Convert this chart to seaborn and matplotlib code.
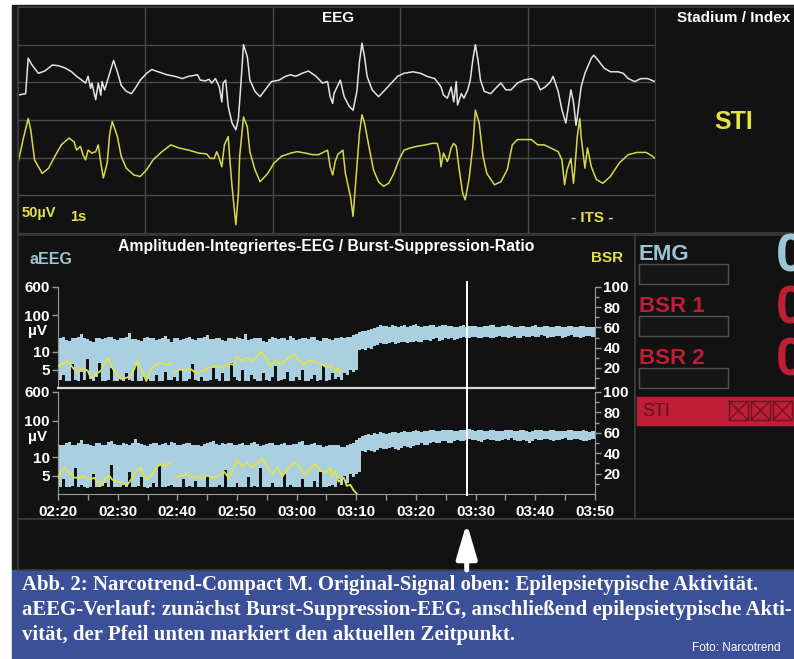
import numpy as np
import matplotlib
matplotlib.use("Agg")
import matplotlib.pyplot as plt
import matplotlib.transforms as mtransforms
from matplotlib.patches import Rectangle
from matplotlib.ticker import NullLocator
import seaborn as sns

W, H = 794, 659

# ---------------- EEG raw signal (top panel): seconds / µV (display offset included)
eeg_white_t = [0.00, 0.06, 0.08, 0.11, 0.16, 0.21, 0.27, 0.32, 0.37, 0.42,
               0.46, 0.50, 0.53, 0.55, 0.57, 0.58, 0.61, 0.63, 0.65, 0.66,
               0.68, 0.72, 0.75, 0.78, 0.81, 0.85, 0.89, 0.92, 0.96, 1.01,
               1.05, 1.10, 1.17, 1.23, 1.29, 1.34, 1.41, 1.43, 1.47, 1.50,
               1.52, 1.55, 1.58, 1.60, 1.61, 1.63, 1.65, 1.68, 1.71, 1.73,
               1.75, 1.77, 1.80, 1.82, 1.86, 1.90, 1.94, 1.99, 2.05, 2.10,
               2.14, 2.18, 2.23, 2.28, 2.34, 2.39, 2.43, 2.45, 2.47, 2.48,
               2.51, 2.53, 2.56, 2.60, 2.63, 2.66, 2.68, 2.70, 2.72, 2.74,
               2.78, 2.83, 2.87, 2.93, 2.98, 3.03, 3.10, 3.16, 3.21, 3.27,
               3.29, 3.32, 3.34, 3.37, 3.40, 3.42, 3.44, 3.45, 3.48, 3.50,
               3.53, 3.55, 3.57, 3.59, 3.61, 3.63, 3.66, 3.71, 3.76, 3.79,
               3.83, 3.87, 3.92, 3.97, 4.03, 4.07, 4.10, 4.14, 4.18, 4.20,
               4.24, 4.27, 4.30, 4.32, 4.34, 4.36, 4.38, 4.39, 4.42, 4.45,
               4.50, 4.52, 4.55, 4.60, 4.65, 4.71, 4.75, 4.79, 4.84, 4.89,
               4.94, 5.00]
eeg_white_uv = [33, 35, 82, 73, 62, 65, 73, 72, 69, 64,
                58, 53, 49, 58, 42, 49, 27, 49, 33, 51,
                40, 62, 79, 64, 46, 38, 35, 42, 53, 62,
                67, 64, 60, 58, 55, 58, 60, 53, 52, 54,
                49, 55, 44, 24, 49, 53, 18, -4, -13, 2,
                49, 100, 84, 53, 38, 31, 40, 51, 53, 58,
                60, 58, 62, 65, 58, 49, 51, 31, 22, 35,
                46, 53, 31, 18, 13, 38, 77, 102, 84, 58,
                40, 31, 38, 49, 58, 62, 64, 62, 58, 55,
                51, 44, 33, 29, 44, 24, 51, 20, 35, 29,
                40, 53, 80, 100, 80, 53, 38, 35, 44, 49,
                40, 40, 49, 53, 55, 51, 40, 44, 51, 58,
                38, 13, -4, 18, 40, 24, -7, 4, 44, 62,
                82, 86, 80, 69, 64, 64, 62, 55, 51, 55,
                55, 51]

eeg_yellow_t = [0.00, 0.04, 0.08, 0.10, 0.13, 0.19, 0.24, 0.29, 0.34, 0.40,
                0.44, 0.46, 0.49, 0.51, 0.53, 0.55, 0.58, 0.61, 0.63, 0.65,
                0.67, 0.70, 0.72, 0.74, 0.78, 0.81, 0.85, 0.91, 0.96, 1.01,
                1.06, 1.13, 1.20, 1.26, 1.34, 1.42, 1.48, 1.51, 1.54, 1.56,
                1.58, 1.60, 1.62, 1.65, 1.66, 1.68, 1.71, 1.73, 1.74, 1.77,
                1.80, 1.82, 1.86, 1.90, 1.96, 2.01, 2.07, 2.14, 2.19, 2.26,
                2.31, 2.36, 2.43, 2.45, 2.47, 2.49, 2.51, 2.55, 2.57, 2.61,
                2.63, 2.65, 2.68, 2.70, 2.72, 2.76, 2.79, 2.83, 2.87, 2.91,
                2.95, 2.99, 3.03, 3.08, 3.13, 3.20, 3.25, 3.29, 3.31, 3.32,
                3.34, 3.37, 3.38, 3.40, 3.42, 3.44, 3.46, 3.49, 3.51, 3.54,
                3.57, 3.59, 3.62, 3.65, 3.68, 3.74, 3.79, 3.84, 3.88, 3.92,
                3.97, 4.03, 4.08, 4.13, 4.18, 4.24, 4.27, 4.29, 4.31, 4.34,
                4.36, 4.37, 4.39, 4.41, 4.42, 4.45, 4.47, 4.50, 4.54, 4.59,
                4.65, 4.72, 4.79, 4.86, 4.93, 4.98, 5.00]
eeg_yellow_uv = [-57, -26, 2, -13, -53, -71, -64, -48, -33, -24,
                 -29, -40, -35, -46, -53, -40, -44, -42, -33, -57,
                 -77, -57, -18, -2, -22, -48, -64, -73, -75, -66,
                 -53, -42, -33, -37, -40, -44, -45, -51, -51, -42,
                 -51, -62, -33, -22, -46, -88, -139, -97, -48, 4,
                 -9, -42, -66, -82, -71, -57, -48, -44, -42, -44,
                 -46, -46, -40, -62, -73, -55, -46, -40, -71, -102,
                 -128, -84, -18, 7, -4, -40, -66, -82, -88, -84,
                 -71, -53, -40, -37, -35, -33, -31, -31, -44, -62,
                 -44, -55, -51, -37, -31, -35, -62, -97, -106, -79,
                 -35, 13, -4, -48, -71, -86, -82, -66, -33, -26,
                 -26, -26, -33, -33, -37, -42, -53, -86, -66, -51,
                 -84, -66, -22, 2, -22, -64, -37, -62, -79, -84,
                 -75, -57, -46, -43, -43, -48, -51]

# ---------------- aEEG trend margins, one value every 0.5 min from 02:20 to 03:50 (µV)
trend_step = 0.5
aeeg1_upper = [22, 24, 25, 21, 20, 23, 24, 26, 30, 23,
               22, 20, 19, 23, 24, 22, 23, 25, 26, 22,
               21, 23, 24, 26, 33, 22, 22, 21, 20, 24,
               25, 23, 23, 21, 22, 24, 27, 22, 19, 23,
               24, 21, 22, 24, 25, 22, 21, 23, 23, 25,
               28, 22, 22, 23, 24, 21, 20, 24, 23, 22,
               25, 23, 22, 31, 21, 22, 24, 23, 23, 20,
               19, 22, 25, 23, 22, 24, 24, 21, 27, 23,
               21, 22, 23, 24, 22, 25, 25, 21, 20, 23,
               23, 22, 21, 24, 24, 25, 24, 25, 26, 28,
               31, 34, 37, 38, 40, 42, 44, 47, 55, 50,
               52, 48, 53, 50, 48, 52, 53, 49, 50, 55,
               56, 50, 49, 52, 52, 55, 54, 49, 50, 53,
               55, 50, 51, 47, 48, 52, 53, 49, 50, 52,
               52, 49, 49, 51, 51, 54, 54, 48, 48, 50,
               50, 53, 52, 47, 47, 50, 51, 48, 49, 52,
               53, 49, 48, 50, 50, 47, 47, 51, 52, 49,
               49, 51, 51, 48, 48, 50, 50, 47, 47, 49,
               49]
aeeg1_lower = [2.0, 2.2, 3.5, 1.8, 1.8, 6.5, 2.2, 2.0, 4.5, 2.2,
               8.0, 2.5, 2.0, 3.0, 7.0, 2.0, 2.0, 2.2, 5.5, 1.8,
               1.8, 2.5, 2.0, 4.0, 2.2, 2.0, 6.0, 2.0, 2.0, 3.0,
               2.5, 1.8, 1.8, 3.5, 2.0, 2.0, 4.5, 2.2, 2.2, 3.0,
               2.0, 5.0, 2.0, 2.0, 2.5, 6.5, 2.2, 2.0, 3.0, 2.0,
               2.0, 2.2, 5.5, 2.5, 2.0, 4.0, 2.0, 2.0, 7.0, 3.0,
               2.2, 2.0, 5.0, 2.0, 2.0, 3.5, 2.5, 2.0, 2.0, 4.0,
               2.2, 2.0, 3.0, 6.0, 2.0, 2.2, 2.5, 4.5, 2.0, 2.0,
               3.0, 2.2, 5.0, 2.0, 2.0, 2.5, 3.5, 2.0, 2.2, 6.0,
               2.0, 2.2, 4.0, 2.5, 3.0, 2.2, 4.0, 3.5, 5.0, 4.5,
               5.0, 11, 12, 11, 13, 12, 14, 15, 17, 16,
               16, 17, 18, 16, 17, 18, 19, 17, 18, 19,
               20, 18, 19, 21, 21, 20, 22, 23, 20, 21,
               23, 22, 24, 21, 22, 24, 25, 23, 23, 26,
               26, 24, 24, 26, 25, 23, 23, 25, 27, 26,
               25, 24, 26, 27, 24, 23, 27, 26, 25, 27,
               26, 25, 28, 27, 24, 25, 26, 27, 27, 24,
               25, 27, 28, 26, 26, 24, 25, 27, 27, 26,
               26]
aeeg2_upper = [24, 22, 21, 25, 26, 22, 22, 24, 30, 23,
               23, 21, 20, 24, 25, 22, 22, 26, 27, 23,
               21, 22, 24, 23, 22, 25, 31, 24, 23, 21,
               20, 23, 25, 24, 22, 23, 24, 21, 26, 24,
               21, 22, 23, 25, 25, 22, 22, 21, 20, 23,
               24, 26, 28, 23, 22, 24, 23, 25, 25, 22,
               21, 23, 24, 22, 22, 25, 26, 23, 20, 22,
               23, 24, 25, 22, 22, 23, 24, 21, 21, 23,
               23, 26, 27, 22, 22, 23, 24, 21, 21, 19,
               20, 22, 22, 21, 21, 19, 19, 22, 23, 25,
               30, 33, 37, 40, 42, 41, 45, 44, 48, 46,
               44, 47, 50, 48, 47, 49, 52, 50, 49, 52,
               55, 51, 50, 53, 53, 55, 56, 52, 51, 54,
               54, 56, 57, 53, 52, 55, 55, 57, 58, 54,
               53, 55, 56, 53, 52, 55, 55, 52, 51, 53,
               54, 56, 57, 53, 52, 54, 55, 52, 50, 52,
               54, 55, 56, 53, 52, 54, 55, 52, 51, 53,
               53, 55, 56, 53, 52, 53, 54, 51, 50, 52,
               53]
aeeg2_lower = [1.8, 2.0, 4.0, 1.8, 2.0, 2.2, 7.0, 2.0, 2.5, 1.8,
               1.6, 2.0, 5.5, 2.0, 2.0, 2.2, 3.0, 2.0, 8.0, 2.0,
               1.8, 2.0, 2.5, 1.8, 6.0, 2.0, 2.0, 2.2, 4.5, 1.8,
               1.7, 2.0, 3.0, 2.0, 7.5, 2.0, 2.0, 2.2, 2.5, 1.8,
               1.8, 2.0, 4.0, 2.0, 2.2, 2.0, 3.5, 1.8, 1.8, 2.0,
               5.0, 2.0, 2.0, 1.8, 2.5, 2.0, 6.5, 2.0, 1.8, 2.0,
               3.0, 2.0, 2.0, 1.8, 4.5, 2.0, 2.2, 2.0, 7.0, 2.0,
               2.0, 1.8, 3.0, 2.0, 1.8, 2.0, 5.5, 2.0, 2.5, 2.0,
               2.0, 1.8, 4.0, 2.0, 1.8, 2.0, 3.5, 2.0, 6.0, 2.0,
               2.0, 2.2, 2.5, 2.0, 4.0, 2.5, 5.0, 3.0, 5.5, 4.5,
               5.5, 6.0, 15, 14, 16, 15, 14, 16, 18, 17,
               17, 18, 19, 17, 16, 18, 20, 19, 18, 20,
               21, 22, 24, 22, 22, 24, 26, 25, 25, 27,
               28, 25, 24, 27, 30, 28, 27, 29, 31, 29,
               29, 27, 26, 29, 32, 30, 30, 28, 27, 29,
               31, 29, 33, 30, 28, 27, 30, 28, 25, 28,
               31, 29, 29, 31, 32, 30, 28, 30, 30, 32,
               33, 30, 29, 31, 31, 29, 27, 28, 30, 31,
               32]

# ---------------- Burst-suppression ratio (%), minutes after 02:20
bsr1_min = [0, 0.8, 1.6, 2.5, 3.3, 4.1, 5.0, 5.5, 6.4, 7.2, 8.0, 8.5, 8.9, 9.4,
            10.0, 10.5, 11.4, 12.2, 12.8, 13.3, 13.7, 14.3, 14.8, 15.6, 16.4,
            17.2, 18.1, 18.9,
            19.4, 20.3, 21.4, 22.2, 23.1, 24.2, 25.3, 26.4, 27.5, 28.6,
            29.5, 30.0, 30.9, 31.7, 32.6, 33.4, 34.1, 34.8, 35.6, 36.5,
            37.3, 38.1, 39.0, 39.7, 40.4, 41.2, 42.0, 43.1, 44.3, 45.1,
            45.7, 45.9, 46.5, 47.0, 47.3]
bsr1_val = [22, 24, 27, 20, 15, 20, 17, 10, 14, 17, 27, 29, 22, 17,
            13, 9, 10, 12, 19, 27, 20, 14, 7, 19, 23,
            25, 23, 24,
            15, 18, 18, 19, 15, 17, 20, 22, 20, 24,
            23, 31, 27, 30, 27, 32, 36, 30, 22, 28,
            23, 27, 32, 33, 27, 23, 27, 26, 23, 20,
            23, 21, 17, 20, 15]
bsr2_min = [0, 0.5, 1.1, 1.9, 2.7, 3.6, 4.4, 5.2, 6.1, 6.6,
            7.2, 8.0, 8.6, 9.1, 10.0, 10.8, 11.6, 12.5, 13.0, 13.9,
            14.4, 15.0, 15.8, 16.7, 17.5, 18.1, 18.9,
            19.7, 20.6, 21.7, 22.5, 23.4, 24.2, 25.0, 25.9, 27.0, 27.8,
            28.6, 29.5, 30.0, 30.9, 31.7, 32.6, 33.4, 34.2, 35.1, 35.9,
            36.8, 37.6, 38.4, 39.2, 39.8, 40.6, 41.5, 42.3, 43.1, 44.0,
            44.8, 45.7, 45.9, 46.5, 47.0, 47.9, 48.4, 49.0, 49.5, 50.1]
bsr2_val = [16, 22, 26, 21, 16, 16, 17, 14, 16, 11,
            8, 16, 18, 14, 12, 11, 9, 16, 22, 26,
            17, 14, 20, 27, 30, 27, 31,
            16, 18, 20, 16, 18, 15, 18, 16, 18, 22,
            16, 26, 33, 27, 31, 26, 30, 35, 26, 20,
            26, 17, 24, 29, 31, 26, 18, 26, 29, 23,
            21, 26, 17, 23, 12, 16, 8, 9, 4, 0]
bsr_gap_after = 19.0          # dropout in the BSR curve

time_labels = ["02:20", "02:30", "02:40", "02:50", "03:00",
               "03:10", "03:20", "03:30", "03:40", "03:50"]
aeeg_ticks = [5, 10, 100, 600]
bsr_ticks = [20, 40, 60, 80, 100]
cursor_min = 68.5             # current time marker

caption = ["Abb. 2: Narcotrend-Compact M. Original-Signal oben: Epilepsietypische Aktivität.",
           "aEEG-Verlauf: zunächst Burst-Suppression-EEG, anschließend epilepsietypische Akti-",
           "vität, der Pfeil unten markiert den aktuellen Zeitpunkt."]

# ---------------- colours
screen = "#1a1a1a"
panel = "#121212"
border = "#3c3c3c"
grid_c = "#4a4a4a"
spine_c = "#9a9a9a"
band_c = "#a9cfe0"
bsr_c = "#e2e24a"
yel_trace = "#d8d84c"
white_trace = "#e4e4e4"
yel_txt = "#e2e245"
blue_txt = "#9cc5d5"
red_c = "#c01d36"
caption_bg = "#3c4f99"

plt.rcParams["font.family"] = ["Liberation Sans", "DejaVu Sans"]
plt.rcParams["font.weight"] = "bold"


def px_rect(x0, y0, x1, y1):
    return [x0 / W, 1 - y1 / H, (x1 - x0) / W, (y1 - y0) / H]


def aeeg_fwd(v):
    # linear 0-10 µV, logarithmic above 10 µV
    v = np.asarray(v, dtype=float)
    return np.where(v <= 10, v / 10, 1 + np.log10(np.maximum(v, 10) / 10))


def aeeg_inv(u):
    u = np.asarray(u, dtype=float)
    return np.where(u <= 1, u * 10, 10 * 10 ** (np.maximum(u, 1) - 1))


fig = plt.figure(figsize=(W / 100, H / 100), dpi=100)
fig.patch.set_facecolor("white")

# background of the monitor screen
base = fig.add_axes([0, 0, 1, 1], zorder=0)
base.set_xlim(0, W)
base.set_ylim(H, 0)
base.axis("off")
base.add_patch(Rectangle((12, 5), W - 12, 565, color=screen))
base.add_patch(Rectangle((12, 570), W - 12, H - 570, color=caption_bg))
for x0, y0, x1, y1 in [(18, 7, 655, 233), (655, 7, W + 3, 233),
                       (18, 235, 635, 519), (635, 235, W + 3, 519),
                       (18, 519, W + 3, 570)]:
    base.add_patch(Rectangle((x0, y0), x1 - x0, y1 - y0, facecolor=panel,
                             edgecolor=border, lw=1.2))

# ---------------- EEG panel
ax_eeg = fig.add_axes(px_rect(18, 7, 655, 233), zorder=2)
ax_eeg.set_facecolor(panel)
sns.lineplot(x=eeg_white_t, y=eeg_white_uv, ax=ax_eeg, color=white_trace,
             lw=1.1, estimator=None, sort=False)
sns.lineplot(x=eeg_yellow_t, y=eeg_yellow_uv, ax=ax_eeg, color=yel_trace,
             lw=1.1, estimator=None, sort=False)
ax_eeg.set_xlim(0, 5)
ax_eeg.set_ylim(-150, 150)
ax_eeg.set_xticks(np.arange(1, 5))
ax_eeg.set_yticks(np.arange(-100, 101, 50))
ax_eeg.grid(True, color=grid_c, lw=1)
ax_eeg.set_axisbelow(True)
ax_eeg.tick_params(length=0, labelbottom=False, labelleft=False)
ax_eeg.set_xlabel("")
ax_eeg.set_ylabel("")
for s in ax_eeg.spines.values():
    s.set_color(border)


# ---------------- aEEG / BSR trends
def trend(rect, upper, lower, bsr_min, bsr_val, bottom):
    ax = fig.add_axes(rect, zorder=3)
    ax.set_facecolor(panel)
    ax.set_yscale("function", functions=(aeeg_fwd, aeeg_inv))
    minutes = np.arange(len(upper)) * trend_step
    ax.fill_between(minutes, lower, upper, step="mid", color=band_c, lw=0)
    ax.set_xlim(0, 90)
    ax.set_ylim(0, 600)
    ax.set_yticks(aeeg_ticks)
    ax.set_yticklabels([str(t) for t in aeeg_ticks])
    ax.yaxis.set_minor_locator(NullLocator())
    ax.set_xticks(np.arange(0, 91, 10))
    ax.set_xticks(np.arange(5, 90, 10), minor=True)
    ax.tick_params(axis="y", colors=spine_c, labelcolor="white", labelsize=11,
                   length=4, width=1, pad=2)
    ax.spines["top"].set_visible(False)
    ax.spines["right"].set_visible(False)
    ax.spines["left"].set_color(spine_c)
    if bottom:
        ax.spines["bottom"].set_color(spine_c)
        ax.set_xticklabels(time_labels)
        ax.tick_params(axis="x", which="both", colors=spine_c, labelcolor="white",
                       labelsize=11, length=4, width=1, pad=4)
    else:
        ax.spines["bottom"].set_color("#d8d8d8")
        ax.spines["bottom"].set_linewidth(1.6)
        ax.tick_params(axis="x", which="both", length=0, labelbottom=False)
    ax.text(-0.02, 36, "µV", color="white", fontsize=11, ha="right", va="center",
            transform=mtransforms.blended_transform_factory(ax.transAxes, ax.transData))

    tw = ax.twinx()
    seg = (np.asarray(bsr_min) > bsr_gap_after).astype(int)
    sns.lineplot(x=bsr_min, y=bsr_val, units=seg, ax=tw, color=bsr_c, lw=1.3,
                 estimator=None, sort=False)
    tw.set_ylim(0, 100)
    tw.set_yticks(bsr_ticks)
    tw.set_yticks(np.arange(10, 100, 20), minor=True)
    tw.tick_params(axis="y", which="both", colors=spine_c, labelcolor="white",
                   labelsize=11, length=4, width=1, pad=2)
    tw.tick_params(axis="y", which="minor", length=3)
    for s in ["top", "left", "bottom"]:
        tw.spines[s].set_visible(False)
    tw.spines["right"].set_color(spine_c)
    tw.set_ylabel("")
    tw.axvline(cursor_min, ymin=-0.01 if bottom else 0, ymax=1.05,
               color="white", lw=1.4, clip_on=False)
    return ax


ax_t1 = trend(px_rect(58, 287, 595, 388), aeeg1_upper, aeeg1_lower,
              bsr1_min, bsr1_val, bottom=False)
ax_t2 = trend(px_rect(58, 392, 595, 494), aeeg2_upper, aeeg2_lower,
              bsr2_min, bsr2_val, bottom=True)

# ---------------- labels and side panel (pixel overlay)
top = fig.add_axes([0, 0, 1, 1], zorder=10)
top.set_xlim(0, W)
top.set_ylim(H, 0)
top.axis("off")
top.patch.set_alpha(0)

top.text(338, 18, "EEG", color="white", fontsize=11, ha="center", va="center")
top.text(22, 213, "50µV", color=yel_txt, fontsize=10.5, ha="left", va="center")
top.text(70, 217, "1s", color=yel_txt, fontsize=10.5, ha="left", va="center")
top.text(592, 218, "- ITS -", color=yel_txt, fontsize=11, ha="center", va="center")
top.text(734, 18, "Stadium / Index", color="white", fontsize=11, ha="center", va="center")
top.text(734, 122, "STI", color=yel_txt, fontsize=18, ha="center", va="center")

top.text(326, 247, "Amplituden-Integriertes-EEG / Burst-Suppression-Ratio",
         color="white", fontsize=11.3, ha="center", va="center")
top.text(30, 259, "aEEG", color=blue_txt, fontsize=11.5, ha="left", va="center")
top.text(607, 258, "BSR", color=yel_txt, fontsize=11, ha="center", va="center")

for label, col, y in [("EMG", blue_txt, 254), ("BSR 1", red_c, 306), ("BSR 2", red_c, 358)]:
    top.text(639, y, label, color=col, fontsize=16, ha="left", va="center")
    top.add_patch(Rectangle((639, y + 10), 89, 20, facecolor="#161616",
                            edgecolor="#505050", lw=1))
    top.text(776, y + 4, "0", color=col, fontsize=38, ha="left", va="center")

top.add_patch(Rectangle((637, 397), W - 637 + 3, 28, color=red_c))
top.text(642, 411, "STI", color="#5a1420", fontsize=13, fontweight="normal",
         ha="left", va="center")
for bx in [729, 751, 773]:
    top.add_patch(Rectangle((bx, 401), 19, 19, facecolor="none",
                            edgecolor="#6a1622", lw=1))
    top.plot([bx, bx + 19], [401, 420], color="#6a1622", lw=1)
    top.plot([bx, bx + 19], [420, 401], color="#6a1622", lw=1)

# current-time arrow below the cursor
arrow_tr = mtransforms.blended_transform_factory(ax_t2.transData, top.transData)
top.annotate("", xy=(cursor_min, 523), xytext=(cursor_min, 570),
             xycoords=arrow_tr, textcoords=arrow_tr,
             arrowprops=dict(arrowstyle="-|>,head_length=1.45,head_width=0.43",
                             color="white", lw=3.6, mutation_scale=14.4,
                             shrinkA=0, shrinkB=0))

# ---------------- caption
cap_texts = []
for line, y in zip(caption, [585, 610, 635]):
    cap_texts.append(top.text(22, y, line, color="white", fontsize=14,
                              family=["Liberation Serif", "DejaVu Serif"],
                              ha="left", va="center"))
renderer = fig.canvas.get_renderer()
w1 = cap_texts[0].get_window_extent(renderer).width
for t in cap_texts:
    t.set_fontsize(14 * 738 / w1)
top.text(692, 648, "Foto: Narcotrend", color="white", fontsize=8.5,
         fontweight="normal", ha="left", va="center")

fig.savefig("out.png", dpi=100)
